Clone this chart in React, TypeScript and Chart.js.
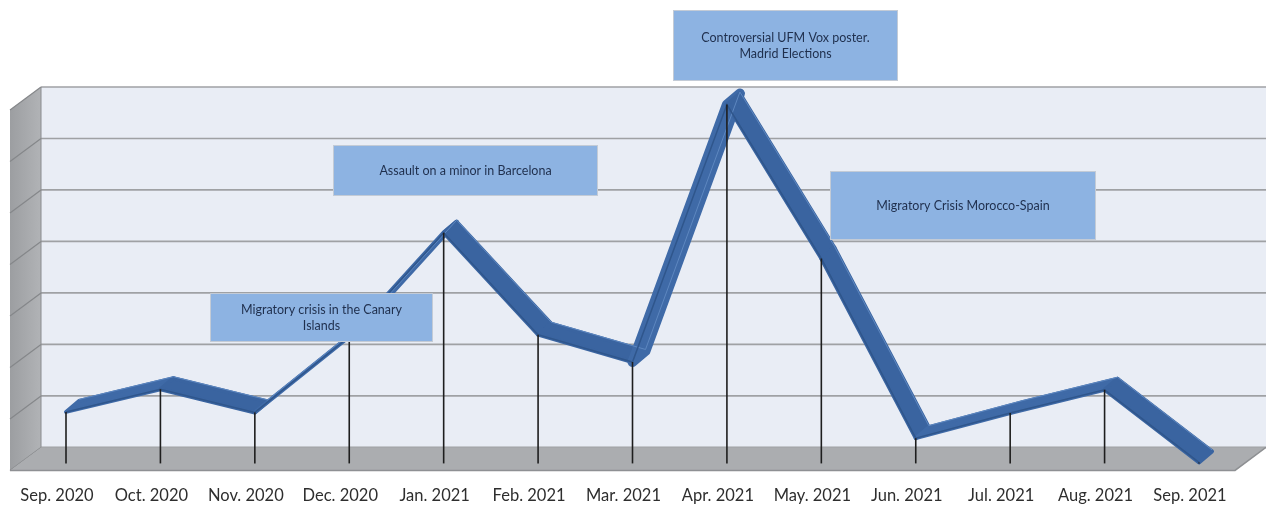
import React, { useEffect, useRef } from "react";
import { Chart, registerables } from "chart.js";

Chart.register(...registerables);

const categories = [
  "Sep. 2020", "Oct. 2020", "Nov. 2020", "Dec. 2020", "Jan. 2021", "Feb. 2021",
  "Mar. 2021", "Apr. 2021", "May. 2021", "Jun. 2021", "Jul. 2021", "Aug. 2021", "Sep. 2021",
];
const mentions = [10.0, 14.4, 9.9, 24.6, 44.8, 25.0, 19.7, 69.7, 39.8, 4.9, 9.8, 14.3, 0.2];
const gridValues = [0, 10, 20, 30, 40, 50, 60, 70];
const eventTexts = [
  ["Migratory crisis in the Canary", "Islands"],
  ["Assault on a minor in Barcelona"],
  ["Controversial UFM Vox poster.", "Madrid Elections"],
  ["Migratory Crisis Morocco-Spain"],
];

// layout of the callout boxes (pixels)
const eventBoxes = [
  { x: 210, y: 293, w: 223, h: 49 },
  { x: 333, y: 145, w: 265, h: 51 },
  { x: 673, y: 10, w: 225, h: 71 },
  { x: 830, y: 171, w: 266, h: 69 },
];

const DEPTH_DX = 31;
const DEPTH_DY = -23;
const RIB_DX = 13;
const RIB_DY = -11;

const scenePlugin = {
  id: "scene3d",
  beforeDatasetsDraw(chart: any) {
    const { ctx, scales, chartArea, width } = chart;
    const y = scales.y;
    const left = chartArea.left;
    const fx = left - 56;
    const bx = fx + DEPTH_DX;
    const y0 = y.getPixelForValue(0);
    const fy = y0 + 7;
    const by = fy + DEPTH_DY;
    const topBack = y.getPixelForValue(gridValues[gridValues.length - 1]) - 16;
    ctx.save();
    // back wall
    ctx.fillStyle = "#e9edf5";
    ctx.fillRect(bx, topBack, width - bx, by - topBack);
    // left wall
    const lg = ctx.createLinearGradient(fx, 0, bx, 0);
    lg.addColorStop(0, "#9c9ea1");
    lg.addColorStop(1, "#b1b3b6");
    ctx.fillStyle = lg;
    ctx.beginPath();
    ctx.moveTo(fx, topBack - DEPTH_DY);
    ctx.lineTo(bx, topBack);
    ctx.lineTo(bx, by);
    ctx.lineTo(fx, fy);
    ctx.closePath();
    ctx.fill();
    // gridlines
    gridValues.forEach((v) => {
      const gy = y.getPixelForValue(v) - 16;
      ctx.strokeStyle = "#9fa1a4";
      ctx.lineWidth = 1.7;
      ctx.beginPath();
      ctx.moveTo(bx, gy);
      ctx.lineTo(width, gy);
      ctx.stroke();
      ctx.strokeStyle = "#85878a";
      ctx.lineWidth = 1.2;
      ctx.beginPath();
      ctx.moveTo(bx, gy);
      ctx.lineTo(fx, gy - DEPTH_DY);
      ctx.stroke();
    });
    ctx.strokeStyle = "#8a8c8f";
    ctx.lineWidth = 1;
    ctx.beginPath();
    ctx.moveTo(bx, topBack);
    ctx.lineTo(bx, by);
    ctx.stroke();
    // floor
    ctx.fillStyle = "#abadb0";
    ctx.beginPath();
    ctx.moveTo(fx, fy);
    ctx.lineTo(bx, by);
    ctx.lineTo(width, by);
    ctx.lineTo(width - DEPTH_DX, fy);
    ctx.closePath();
    ctx.fill();
    ctx.strokeStyle = "#8e9093";
    ctx.lineWidth = 1.5;
    ctx.beginPath();
    ctx.moveTo(fx, fy);
    ctx.lineTo(width - DEPTH_DX, fy);
    ctx.lineTo(width, by);
    ctx.stroke();

    // ribbon
    const pts = chart.getDatasetMeta(0).data;
    ctx.lineJoin = "round";
    for (let i = 0; i < pts.length - 1; i++) {
      const a = pts[i];
      const b = pts[i + 1];
      const dx = Math.abs(b.x - a.x);
      const dy = a.y - b.y;
      const rising = dy > 0;
      const steep = rising ? Math.max(0, Math.min(1, (dy / dx - 1) / 1.5)) : 0;
      const col = rising ? "#3f6aa7" : "#3a64a0";
      ctx.fillStyle = col;
      ctx.strokeStyle = col;
      ctx.lineWidth = 4 + 6 * steep;
      ctx.beginPath();
      ctx.moveTo(a.x, a.y);
      ctx.lineTo(b.x, b.y);
      ctx.lineTo(b.x + RIB_DX, b.y + RIB_DY);
      ctx.lineTo(a.x + RIB_DX, a.y + RIB_DY);
      ctx.closePath();
      ctx.fill();
      ctx.stroke();
    }
    // highlight along upper edge
    ctx.lineWidth = 1;
    ctx.strokeStyle = "#5d87c0";
    ctx.beginPath();
    pts.forEach((p: any, i: number) => {
      if (i === 0) ctx.moveTo(p.x + RIB_DX, p.y + RIB_DY - 1.5);
      else ctx.lineTo(p.x + RIB_DX, p.y + RIB_DY - 1.5);
    });
    ctx.stroke();
    ctx.restore();
  },
  afterDatasetsDraw(chart: any) {
    const { ctx, scales } = chart;
    const y = scales.y;
    const y0 = y.getPixelForValue(0);
    const pts = chart.getDatasetMeta(0).data;
    ctx.save();
    ctx.strokeStyle = "#1e1e1e";
    ctx.lineWidth = 1.6;
    pts.forEach((p: any) => {
      ctx.beginPath();
      ctx.moveTo(p.x, p.y);
      ctx.lineTo(p.x, y0);
      ctx.stroke();
    });
    // callouts
    eventBoxes.forEach((bx, i) => {
      ctx.fillStyle = "#8db3e2";
      ctx.fillRect(bx.x, bx.y, bx.w, bx.h);
      ctx.strokeStyle = "#c3cbd6";
      ctx.lineWidth = 1;
      ctx.strokeRect(bx.x + 0.5, bx.y + 0.5, bx.w - 1, bx.h - 1);
      const lines = eventTexts[i];
      ctx.fillStyle = "#1f2f4d";
      ctx.font = "12.5px Lato";
      ctx.textAlign = "center";
      ctx.textBaseline = "middle";
      const lh = 16;
      const cy = bx.y + bx.h / 2 - ((lines.length - 1) * lh) / 2;
      lines.forEach((t, k) => ctx.fillText(t, bx.x + bx.w / 2, cy + k * lh));
    });
    ctx.restore();
  },
};

export default function App() {
  const ref = useRef<HTMLCanvasElement | null>(null);
  useEffect(() => {
    if (!ref.current) return;
    const chart = new Chart(ref.current, {
      type: "line",
      data: {
        labels: categories,
        datasets: [
          {
            data: mentions,
            borderColor: "#2f568c",
            borderWidth: 1.5,
            pointRadius: 0,
            tension: 0,
            fill: false,
          },
        ],
      },
      options: {
        responsive: false,
        animation: false,
        layout: { padding: { left: 66, right: 67, top: 103, bottom: 0 } },
        plugins: { legend: { display: false }, tooltip: { enabled: false } },
        scales: {
          x: {
            offset: false,
            grid: { display: false, drawTicks: false },
            border: { display: false },
            ticks: {
              color: "#2e2e2e",
              font: { family: "Lato", size: 16.5, lineHeight: 1 },
              padding: 2,
              labelOffset: -9,
              autoSkip: false,
              maxRotation: 0,
            },
          },
          y: { display: false, min: -4.29, max: 70 },
        },
      },
      plugins: [scenePlugin],
    });
    return () => chart.destroy();
  }, []);
  return (
    <div style={{ position: "absolute", left: 0, top: 0, width: 1266, height: 506, background: "#fff" }}>
      <canvas ref={ref} width={1266} height={506} style={{ width: 1266, height: 506 }} />
    </div>
  );
}
